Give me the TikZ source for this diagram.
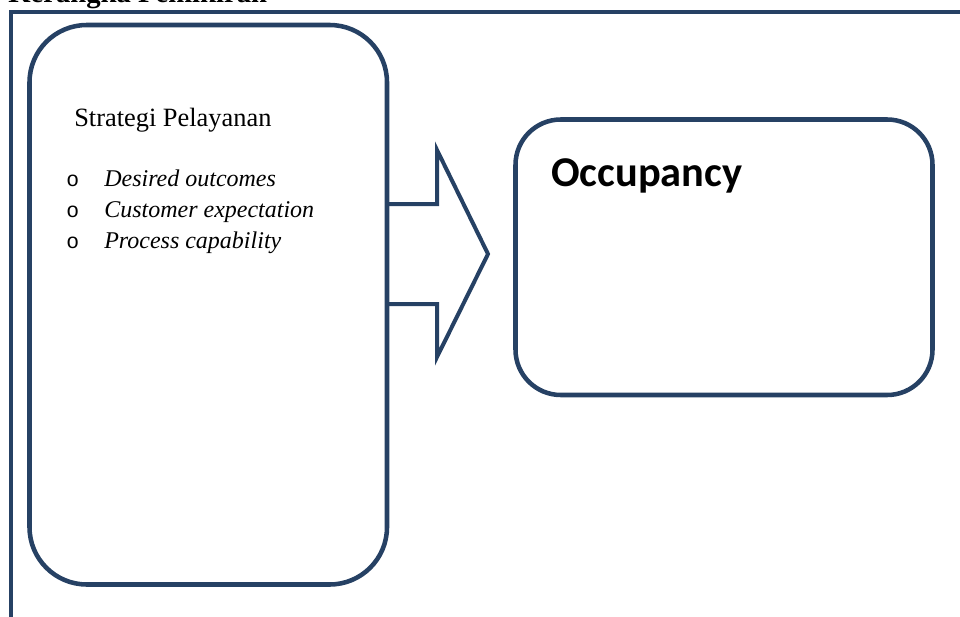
\documentclass[tikz,border=0pt]{standalone}
\usepackage{fontspec}
\setmainfont{Liberation Serif}
\newfontfamily\calibrifont{Carlito}
\newfontfamily\bulletfont{Liberation Mono}
\usepackage{tikz}
\usetikzlibrary{calc}
\definecolor{framecol}{RGB}{38,65,100}

\begin{document}
\begin{tikzpicture}[x=0.75pt, y=-0.75pt, line join=miter,
        boxline/.style={draw=framecol, line width=3.4pt},
        itemtext/.style={anchor=base west, inner sep=0pt, font=\fontsize{18}{21}\selectfont\itshape},
        bullettext/.style={anchor=base west, inner sep=0pt, font=\bulletfont\fontsize{16}{18}\selectfont}]
        \useasboundingbox (0,0) rectangle (960,617);
        \node[anchor=base west, inner sep=0pt, font=\fontsize{21.5}{24}\selectfont\bfseries] (title) at (8,2.5) {Kerangka Pemikiran};
        \draw[draw=framecol, line width=3pt] (11,640) -- (11,12) -- (980,12);

        \draw[boxline, rounded corners=43pt] (29.5,25) rectangle (387,584.5);
        \coordinate (strat) at (387,254);
        \node[anchor=base west, inner sep=0pt, font=\fontsize{19.8}{22}\selectfont] (head) at (74,127) {Strategi Pelayanan};
        \node[bullettext] (b1) at (66,186) {o};
        \node[bullettext] (b2) at (66,217) {o};
        \node[bullettext] (b3) at (66,248) {o};
        \node[itemtext] (i1) at (104,186) {Desired outcomes};
        \node[itemtext] (i2) at (104,217) {Customer expectation};
        \node[itemtext] (i3) at (104,248) {Process capability};

        \draw[boxline, line width=3pt] ($(strat)+(0,-50)$) -- (437,204) -- (437,150) -- (488,254) -- (437,357) -- (437,304) -- ($(strat)+(0,50)$);

        \draw[boxline, rounded corners=34pt] (515.5,119.5) rectangle (932.5,395);
        \node[anchor=base west, inner sep=0pt, font=\calibrifont\bfseries\fontsize{31.8}{36}\selectfont] (occ) at (551,186) {Occupancy};
\end{tikzpicture}
\end{document}
